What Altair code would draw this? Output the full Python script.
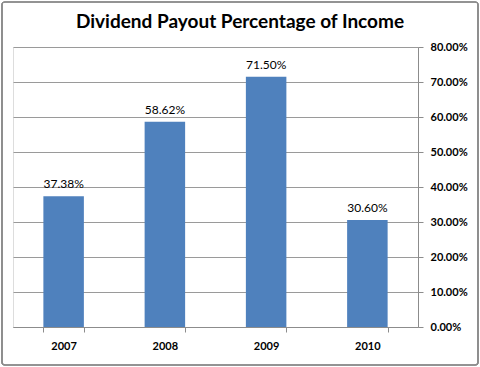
import altair as alt
import pandas as pd

years = ["2007", "2008", "2009", "2010"]
payout = [0.3738, 0.5862, 0.7150, 0.3060]
labels = ["37.38%", "58.62%", "71.50%", "30.60%"]
title_text = "Dividend Payout Percentage of Income"

df = pd.DataFrame({"year": years, "payout": payout, "label": labels})

FONT = "Lato"
BLUE = "#4F81BD"

x = alt.X("year:N", sort=years, title=None,
          scale=alt.Scale(paddingInner=0.6, paddingOuter=0.3),
          axis=alt.Axis(labelAngle=0, labelFont=FONT, labelFontWeight="bold",
                        labelFontSize=11, labelColor="#000000", labelPadding=8,
                        tickBand="extent", tickSize=5, tickColor="#8c8c8c",
                        domainColor="#8c8c8c", grid=False))
y = alt.Y("payout:Q", title=None,
          scale=alt.Scale(domain=[0, 0.8], nice=False),
          axis=alt.Axis(orient="right", format=".2%", values=[i / 10 for i in range(9)],
                        labelFont=FONT, labelFontWeight="bold", labelFontSize=11,
                        labelColor="#000000", labelPadding=7, tickSize=5,
                        tickColor="#8c8c8c", domainColor="#8c8c8c",
                        grid=True, gridColor="#9a9a9a"))

bars = alt.Chart(df).mark_bar(color=BLUE).encode(x=x, y=y)
text = alt.Chart(df).mark_text(baseline="bottom", dy=-5, font=FONT, fontSize=12,
                               color="#000000").encode(x=x, y=y, text="label:N")
frame = alt.Chart(df).mark_rect(fill=None, stroke="#8c8c8c", strokeWidth=1.2,
                                cornerRadius=3, clip=False).encode(
    x=alt.value(-11), x2=alt.value(465), y=alt.value(-45), y2=alt.value(318))
title = alt.Chart(pd.DataFrame({"t": [title_text]})).mark_text(
    font=FONT, fontSize=19, fontWeight="bold", color="#000000",
    align="center", baseline="middle").encode(
    x=alt.value(227), y=alt.value(-25), text="t:N")

chart = alt.layer(frame, bars, text, title).properties(
    width=405, height=280,
    padding={"left": 13, "top": 47, "right": 62, "bottom": 40},
    autosize="none",
).configure_view(stroke=None).configure(background="white")

chart.save("out.html", embed_options={"renderer": "svg", "actions": False})
